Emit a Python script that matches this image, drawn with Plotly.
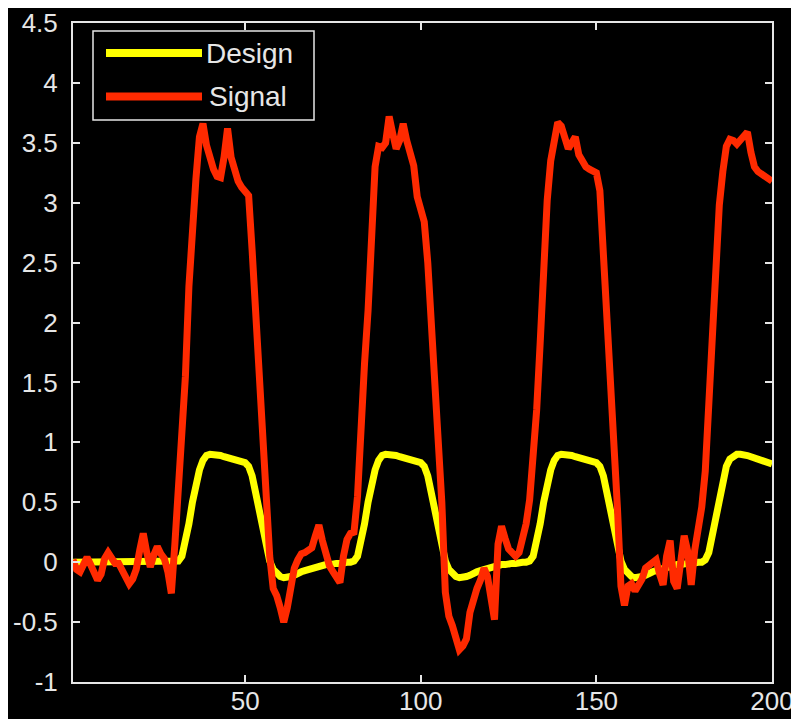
import plotly.graph_objects as go

x_vals = list(range(1, 201))

design = [
    0, 0, 0, 0, 0, 0, 0, 0, 0, 0,
    0, 0, 0, 0, 0, 0, 0, 0, 0, 0,
    0, 0, 0, 0, 0, 0, 0, 0, 0, 0,
    0.01, 0.05, 0.16, 0.32, 0.50, 0.65, 0.77, 0.85, 0.89, 0.90,
    0.90, 0.90, 0.89, 0.88, 0.87, 0.86, 0.86, 0.85, 0.84, 0.83,
    0.80, 0.72, 0.58, 0.42, 0.26, 0.12, 0.01, -0.06, -0.10, -0.12,
    -0.13, -0.13, -0.12, -0.11, -0.09, -0.08, -0.07, -0.06, -0.05, -0.04,
    -0.03, -0.03, -0.02, -0.02, -0.01, -0.01, -0.01, 0.00, 0.00, 0.00,
    0.01, 0.05, 0.16, 0.32, 0.50, 0.65, 0.77, 0.85, 0.89, 0.90,
    0.90, 0.90, 0.89, 0.88, 0.87, 0.86, 0.86, 0.85, 0.84, 0.83,
    0.80, 0.72, 0.58, 0.42, 0.26, 0.12, 0.01, -0.06, -0.10, -0.12,
    -0.13, -0.13, -0.12, -0.11, -0.09, -0.08, -0.07, -0.06, -0.05, -0.04,
    -0.03, -0.03, -0.02, -0.02, -0.01, -0.01, -0.01, 0.00, 0.00, 0.00,
    0.01, 0.05, 0.16, 0.32, 0.50, 0.65, 0.77, 0.85, 0.89, 0.90,
    0.90, 0.90, 0.89, 0.88, 0.87, 0.86, 0.86, 0.85, 0.84, 0.83,
    0.80, 0.72, 0.58, 0.42, 0.26, 0.12, 0.01, -0.06, -0.10, -0.12,
    -0.13, -0.13, -0.12, -0.11, -0.09, -0.08, -0.07, -0.06, -0.05, -0.04,
    -0.03, -0.03, -0.02, -0.02, -0.01, -0.01, -0.01, 0.00, 0.00, 0.00,
    0.02, 0.08, 0.22, 0.40, 0.57, 0.70, 0.80, 0.86, 0.89, 0.90,
    0.90, 0.90, 0.89, 0.88, 0.87, 0.86, 0.85, 0.84, 0.83, 0.82,
]

signal = [
    0.02, -0.06, -0.08, -0.03, 0.04, -0.02, -0.10, -0.15, -0.10, 0.03,
    0.08, 0.03, -0.01, -0.01, -0.06, -0.12, -0.18, -0.14, -0.06, 0.10,
    0.24, 0.08, -0.04, 0.06, 0.13, 0.07, 0.03, -0.08, -0.26, 0.15,
    0.65, 1.00, 1.55, 2.30, 2.85, 3.20, 3.55, 3.66, 3.48, 3.36,
    3.28, 3.22, 3.21, 3.38, 3.62, 3.38, 3.26, 3.18, 3.13, 3.10,
    3.06, 2.60, 2.05, 1.50, 1.05, 0.55, 0.05, -0.22, -0.28, -0.38,
    -0.50, -0.38, -0.20, -0.05, 0.02, 0.07, 0.08, 0.10, 0.12, 0.22,
    0.31, 0.18, 0.06, -0.03, -0.08, -0.14, -0.17, 0.05, 0.19, 0.24,
    0.25, 0.55, 1.20, 1.66, 2.10, 2.70, 3.30, 3.47, 3.46, 3.50,
    3.72, 3.58, 3.45, 3.52, 3.66, 3.52, 3.42, 3.31, 3.05, 2.95,
    2.84, 2.50, 2.03, 1.59, 1.15, 0.50, -0.25, -0.45, -0.53, -0.62,
    -0.73, -0.70, -0.64, -0.42, -0.30, -0.22, -0.15, -0.05, -0.12, -0.30,
    -0.48, 0.15, 0.30, 0.20, 0.11, 0.08, 0.05, 0.08, 0.20, 0.32,
    0.52, 0.89, 1.27, 1.83, 2.55, 3.02, 3.35, 3.55, 3.67, 3.64,
    3.55, 3.45, 3.50, 3.55, 3.40, 3.34, 3.30, 3.28, 3.27, 3.25,
    3.10, 2.60, 2.17, 1.58, 1.11, 0.45, -0.20, -0.36, -0.20, -0.18,
    -0.24, -0.20, -0.14, -0.05, -0.02, 0.00, 0.02, -0.10, -0.19, 0.05,
    0.18, -0.16, -0.22, 0.00, 0.22, 0.09, -0.19, 0.10, 0.30, 0.46,
    0.76, 1.29, 2.06, 2.55, 2.98, 3.26, 3.47, 3.53, 3.52, 3.49,
    3.52, 3.55, 3.59, 3.42, 3.30, 3.26, 3.24, 3.22, 3.20, 3.18,
]

x_ticks = [50, 100, 150, 200]
y_ticks = [-1, -0.5, 0, 0.5, 1, 1.5, 2, 2.5, 3, 3.5, 4, 4.5]
y_labels = ["-1", "-0.5", "0", "0.5", "1", "1.5", "2", "2.5", "3", "3.5", "4", "4.5"]
series_names = ["Design", "Signal"]

YELLOW = "#ffff00"
RED = "#ff2a00"
AXC = "#e6e6e6"
FONT = "Liberation Sans"

fig = go.Figure()
fig.add_trace(go.Scatter(x=x_vals, y=design, mode="lines", name=series_names[0],
                         line=dict(color=YELLOW, width=7), showlegend=False))
fig.add_trace(go.Scatter(x=x_vals, y=signal, mode="lines", name=series_names[1],
                         line=dict(color=RED, width=7), showlegend=False))

axis_common = dict(
    showline=True, linecolor=AXC, linewidth=2, mirror="ticks",
    ticks="inside", ticklen=7, tickwidth=2, tickcolor=AXC,
    showgrid=False, zeroline=False, automargin=False,
    tickfont=dict(family=FONT, size=26, color=AXC),
)

fig.update_xaxes(range=[1, 200], tickvals=x_ticks, ticklabelstandoff=-5, **axis_common)
fig.update_yaxes(range=[-1, 4.5], tickvals=y_ticks, ticktext=y_labels,
                 ticklabelstandoff=8, **axis_common)

# The page is shown with an 8px body margin, so the figure is 8px smaller
# and the plot area target (screen px 73..772 x 23..682) is offset accordingly.
OFF = 8
FIG_W, FIG_H = 799 - OFF, 719 - OFF
L, R, T, B = 73, 772, 23, 682
W, H = R - L, B - T
def px(xp):
    return (xp - L) / W
def py(yp):
    return (B - yp) / H

shapes = [
    dict(type="rect", xref="paper", yref="paper", x0=px(93), x1=px(314), y0=py(120), y1=py(31),
         line=dict(color=AXC, width=1.5), fillcolor="black", layer="above"),
    dict(type="line", xref="paper", yref="paper", x0=px(106), x1=px(202), y0=py(53), y1=py(53),
         line=dict(color=YELLOW, width=8), layer="above"),
    dict(type="line", xref="paper", yref="paper", x0=px(106), x1=px(202), y0=py(96.5), y1=py(96.5),
         line=dict(color=RED, width=8), layer="above"),
]
annotations = [
    dict(xref="paper", yref="paper", x=px(204), y=py(54), text=series_names[0], showarrow=False,
         xanchor="left", yanchor="middle", font=dict(family=FONT, size=28, color=AXC)),
    dict(xref="paper", yref="paper", x=px(207), y=py(97), text=series_names[1], showarrow=False,
         xanchor="left", yanchor="middle", font=dict(family=FONT, size=28, color=AXC)),
]

fig.update_layout(
    width=FIG_W, height=FIG_H,
    margin=dict(l=L - OFF, r=FIG_W - (R - OFF), t=T - OFF, b=FIG_H - (B - OFF)),
    paper_bgcolor="black", plot_bgcolor="black",
    shapes=shapes, annotations=annotations,
    showlegend=False,
)

fig.write_html("out.html")
